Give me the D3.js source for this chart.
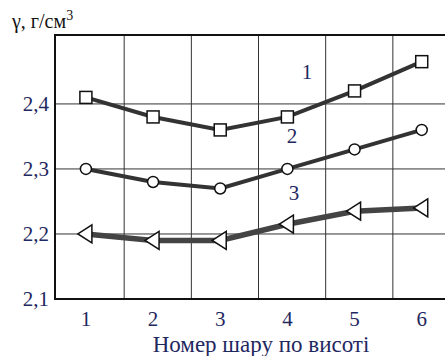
<!DOCTYPE html>
<html>
<head>
<meta charset="utf-8">
<script src="https://cdn.jsdelivr.net/npm/d3@7"></script>
<style>
  body { margin: 0; background: #fff; }
</style>
</head>
<body>
<div id="chart"></div>
<script>
const layers = [1, 2, 3, 4, 5, 6]
const series1 = [2.41, 2.38, 2.36, 2.38, 2.42, 2.465]
const series2 = [2.30, 2.28, 2.27, 2.30, 2.33, 2.36]
const series3 = [2.20, 2.19, 2.19, 2.215, 2.235, 2.24]
const yTicks = [2.1, 2.2, 2.3, 2.4]
const xGrid = [1.57, 2.57, 3.57, 4.57, 5.57]
const curveLabels = [
    {text: "1", x: 4.29, y: 2.449},
    {text: "2", x: 4.07, y: 2.35},
    {text: "3", x: 4.1, y: 2.263}
]

function drawChart() {
    const width = 445
    const height = 356
    const navy = "#1f2860"
    const serif = "'Liberation Serif', 'DejaVu Serif', serif"

    const svg = d3.select("#chart").append("svg")
        .attr("width", width)
        .attr("height", height)
        .style("display", "block")

    const x = d3.scaleLinear().domain([0.54, 6.54]).range([55, 458])
    const y = d3.scaleLinear().domain([2.1, 2.506]).range([299, 35])

    // grid
    svg.append("g").selectAll("line")
        .data(xGrid).join("line")
        .attr("x1", d => x(d)).attr("x2", d => x(d))
        .attr("y1", y(2.506)).attr("y2", y(2.1))
        .attr("stroke", "#333").attr("stroke-width", 1)

    svg.append("g").selectAll("line")
        .data(yTicks.slice(1)).join("line")
        .attr("x1", x(0.54)).attr("x2", width)
        .attr("y1", d => y(d)).attr("y2", d => y(d))
        .attr("stroke", "#333").attr("stroke-width", 1)

    // frame
    svg.append("rect")
        .attr("x", x(0.54)).attr("y", y(2.506))
        .attr("width", x(6.54) - x(0.54)).attr("height", y(2.1) - y(2.506))
        .attr("fill", "none").attr("stroke", "#111").attr("stroke-width", 2)

    // y tick labels
    svg.append("g").selectAll("text")
        .data(yTicks).join("text")
        .attr("x", 49).attr("y", d => y(d) + 7)
        .attr("text-anchor", "end")
        .style("font-family", serif)
        .attr("font-size", 21).attr("fill", navy)
        .text(d => d3.format(".1f")(d).replace(".", ","))

    // x tick labels
    svg.append("g").selectAll("text")
        .data(layers).join("text")
        .attr("x", d => x(d)).attr("y", 326)
        .attr("text-anchor", "middle")
        .style("font-family", serif)
        .attr("font-size", 21).attr("fill", navy)
        .text(d => d)

    svg.append("text")
        .attr("x", 261).attr("y", 352)
        .attr("text-anchor", "middle")
        .style("font-family", serif)
        .attr("font-size", 23).attr("fill", navy)
        .text("Номер шару по висоті")

    const yTitle = svg.append("text")
        .attr("x", 12).attr("y", 28)
        .style("font-family", serif)
        .attr("font-size", 20).attr("fill", "#111")
    yTitle.append("tspan").text("γ, г/см")
    yTitle.append("tspan").attr("font-size", 14).attr("dy", -8).text("3")

    const line = d3.line().x((d, i) => x(layers[i])).y(d => y(d))

    const lineStyles = [
        {data: series1, w: 4, c: "#333"},
        {data: series2, w: 4, c: "#333"},
        {data: series3, w: 5.5, c: "#444"}
    ]
    svg.append("g").selectAll("path")
        .data(lineStyles).join("path")
        .attr("d", d => line(d.data))
        .attr("fill", "none")
        .attr("stroke", d => d.c)
        .attr("stroke-width", d => d.w)

    // markers
    svg.append("g").selectAll("rect")
        .data(series1).join("rect")
        .attr("x", (d, i) => x(layers[i]) - 6)
        .attr("y", d => y(d) - 6)
        .attr("width", 12).attr("height", 12)
        .attr("fill", "#fff").attr("stroke", "#111").attr("stroke-width", 1.5)

    svg.append("g").selectAll("circle")
        .data(series2).join("circle")
        .attr("cx", (d, i) => x(layers[i]))
        .attr("cy", d => y(d))
        .attr("r", 5.5)
        .attr("fill", "#fff").attr("stroke", "#111").attr("stroke-width", 1.5)

    svg.append("g").selectAll("path")
        .data(series3).join("path")
        .attr("d", (d, i) => {
            const cx = x(layers[i]), cy = y(d)
            return `M${cx - 8},${cy} L${cx + 6},${cy - 9} L${cx + 6},${cy + 9} Z`
        })
        .attr("fill", "#fff").attr("stroke", "#111").attr("stroke-width", 1.5)

    svg.append("g").selectAll("text")
        .data(curveLabels).join("text")
        .attr("x", d => x(d.x)).attr("y", d => y(d.y) + 7)
        .attr("text-anchor", "middle")
        .style("font-family", serif)
        .attr("font-size", 21).attr("fill", navy)
        .text(d => d.text)
}

drawChart()
</script>
</body>
</html>
